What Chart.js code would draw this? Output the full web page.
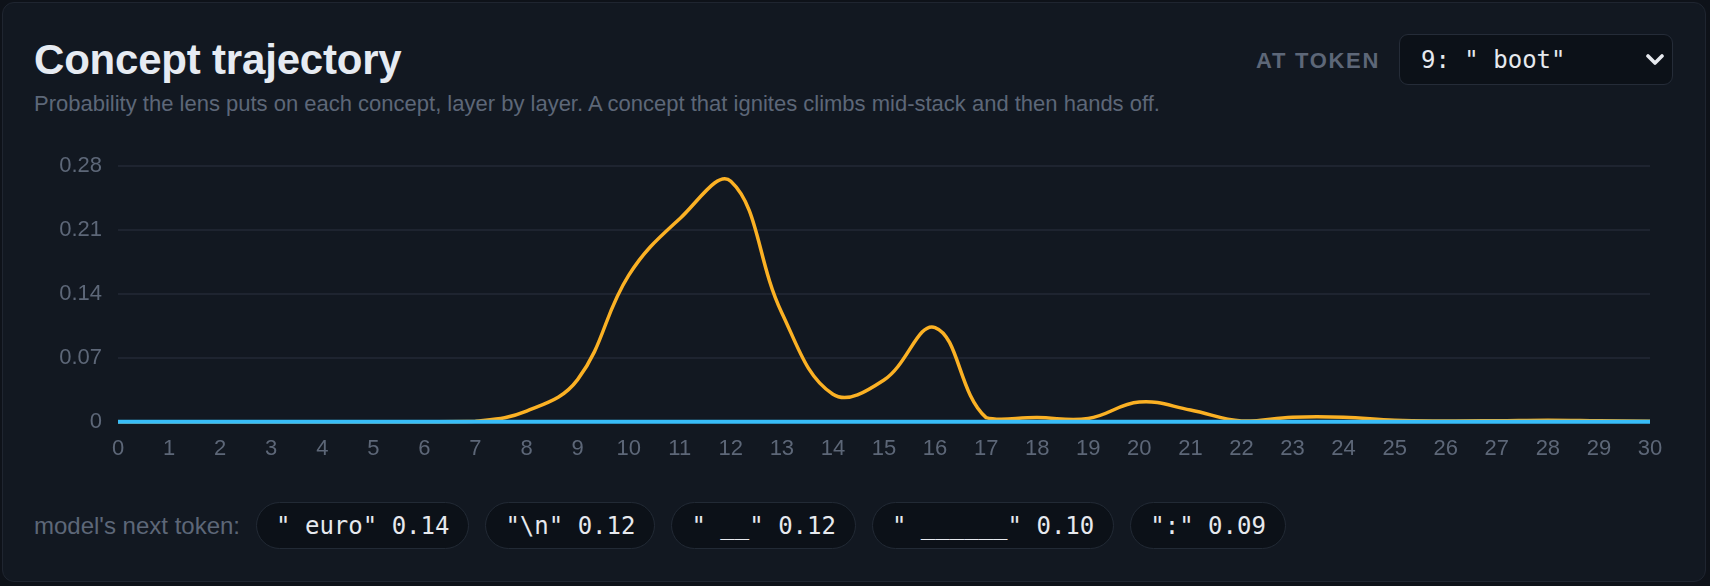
<!DOCTYPE html>
<html>
<head>
<meta charset="utf-8">
<title>Concept trajectory</title>
<script src="https://cdn.jsdelivr.net/npm/chart.js@4/dist/chart.umd.min.js"></script>
<style>
  html, body {
    margin: 0;
    padding: 0;
    background: #0e1219;
    width: 1710px;
    height: 586px;
    overflow: hidden;
    font-family: "Liberation Sans", Arial, Helvetica, sans-serif;
  }
  .card {
    position: absolute;
    left: 2px;
    top: 2px;
    width: 1704px;
    height: 580px;
    box-sizing: border-box;
    background: #121821;
    border: 1px solid #1f2530;
    border-radius: 12px;
  }
  .title {
    position: absolute;
    left: 31px;
    top: 36px;
    font-size: 42px;
    line-height: 42px;
    font-weight: bold;
    color: #e6ebf2;
    letter-spacing: -0.2px;
    white-space: nowrap;
  }
  .subtitle {
    position: absolute;
    left: 31px;
    top: 90px;
    font-size: 22px;
    line-height: 22px;
    color: #5d6778;
    white-space: nowrap;
  }
  .at-token {
    position: absolute;
    left: 1253px;
    top: 47px;
    font-size: 22px;
    line-height: 22px;
    font-weight: bold;
    letter-spacing: 1.7px;
    color: #5d6778;
  }
  select {
    position: absolute;
    left: 1396px;
    top: 31px;
    width: 274px;
    height: 51px;
    box-sizing: border-box;
    appearance: none;
    -webkit-appearance: none;
    background: #0c1118;
    border: 1px solid #252c38;
    border-radius: 9px;
    color: #e6e9ee;
    font-family: "DejaVu Sans Mono", monospace;
    font-size: 24px;
    padding: 0 0 0 21px;
    outline: none;
  }
  .chevron {
    position: absolute;
    left: 1643px;
    top: 51px;
    width: 18px;
    height: 12px;
    pointer-events: none;
  }
  .chart-box {
    position: absolute;
    left: 32px;
    top: 132px;
    width: 1635px;
    height: 335px;
  }
  .next {
    position: absolute;
    left: 31px;
    top: 499px;
    height: 47px;
    display: flex;
    align-items: center;
    gap: 16px;
  }
  .next .label {
    font-size: 24px;
    color: #5d6778;
  }
  .pill {
    height: 47px;
    box-sizing: border-box;
    padding: 0 19px;
    display: flex;
    align-items: center;
    border: 1px solid #222a35;
    border-radius: 24px;
    background: #0c1118;
    color: #e6e9ee;
    font-family: "DejaVu Sans Mono", monospace;
    font-size: 24px;
    white-space: pre;
  }
</style>
</head>
<body>
<div class="card">
  <div class="title">Concept trajectory</div>
  <div class="subtitle">Probability the lens puts on each concept, layer by layer. A concept that ignites climbs mid-stack and then hands off.</div>
  <div class="at-token">AT TOKEN</div>
  <select id="token"><option>9: " boot"</option></select>
  <svg class="chevron" viewBox="0 0 18 12"><polyline points="2,2 9,9 16,2" fill="none" stroke="#e6e9ee" stroke-width="3.6" stroke-linecap="round" stroke-linejoin="round"/></svg>
  <div class="chart-box"><canvas id="trajectory"></canvas></div>
  <div class="next" id="next">
    <span class="label">model's next token:</span>
  </div>
</div>
<script>
const layers = ["0", "1", "2", "3", "4", "5", "6", "7", "8", "9", "10", "11", "12", "13", "14", "15",
  "16", "17", "18", "19", "20", "21", "22", "23", "24", "25", "26", "27", "28", "29", "30"];

// probability per layer
const concept1 = [0, 0, 0, 0, 0, 0, 0, 0.0005, 0.0115, 0.046, 0.16, 0.222, 0.263, 0.119, 0.03,
  0.0456, 0.103, 0.0044, 0.0045, 0.0035, 0.0215, 0.0128, 0.0008, 0.005, 0.005, 0.0015, 0.0008,
  0.001, 0.0015, 0.001, 0.0005];
const concept2 = [0, 0, 0, 0, 0, 0, 0, 0, 0, 0, 0, 0, 0, 0, 0, 0, 0, 0, 0, 0, 0, 0, 0, 0, 0, 0, 0,
  0, 0, 0, 0];

const yTicks = [0, 0.07, 0.14, 0.21, 0.28];

const nextTokens = ['" euro"', '"\\n"', '" __"', '" ______"', '":"'];
const nextProbs = [0.14, 0.12, 0.12, 0.10, 0.09];

const nextEl = document.getElementById("next");
nextTokens.forEach((tok, i) => {
  const pill = document.createElement("span");
  pill.className = "pill";
  pill.textContent = tok + " " + nextProbs[i].toFixed(2);
  nextEl.appendChild(pill);
});

const tickColor = "#5d6778";
const tickFont = { family: "'Liberation Sans', Arial, sans-serif", size: 22 };

const ctx = document.getElementById("trajectory").getContext("2d");
new Chart(ctx, {
  type: "line",
  data: {
    labels: layers,
    datasets: [
      {
        label: "concept 2",
        data: concept2,
        borderColor: "#38bdf8",
        borderWidth: 4,
        pointRadius: 0,
        tension: 0.4,
        clip: false,
        order: 0,
      },
      {
        label: "concept 1",
        data: concept1,
        borderColor: "#fbb124",
        borderWidth: 3.5,
        pointRadius: 0,
        tension: 0.4,
        clip: false,
        order: 1,
      },
    ],
  },
  options: {
    responsive: true,
    maintainAspectRatio: false,
    animation: false,
    layout: {
      padding: { top: 30.7, right: 20, bottom: 0, left: 0 },
    },
    plugins: {
      legend: { display: false },
      tooltip: { enabled: false },
    },
    scales: {
      x: {
        grid: { display: false },
        border: { display: false },
        ticks: {
          color: tickColor,
          font: tickFont,
          padding: 6,
          maxRotation: 0,
          autoSkip: false,
        },
        afterFit(scale) {
          scale.height = 48.3;
        },
      },
      y: {
        min: 0,
        max: 0.28,
        grid: { color: "#1e2430", lineWidth: 2, drawTicks: false },
        border: { display: false },
        afterBuildTicks(scale) {
          scale.ticks = yTicks.map((v) => ({ value: v }));
        },
        ticks: {
          color: tickColor,
          font: tickFont,
          padding: 16,
          callback: (v) => String(+v.toFixed(2)),
        },
        afterFit(scale) {
          scale.width = 83;
        },
      },
    },
  },
});
</script>
</body>
</html>
